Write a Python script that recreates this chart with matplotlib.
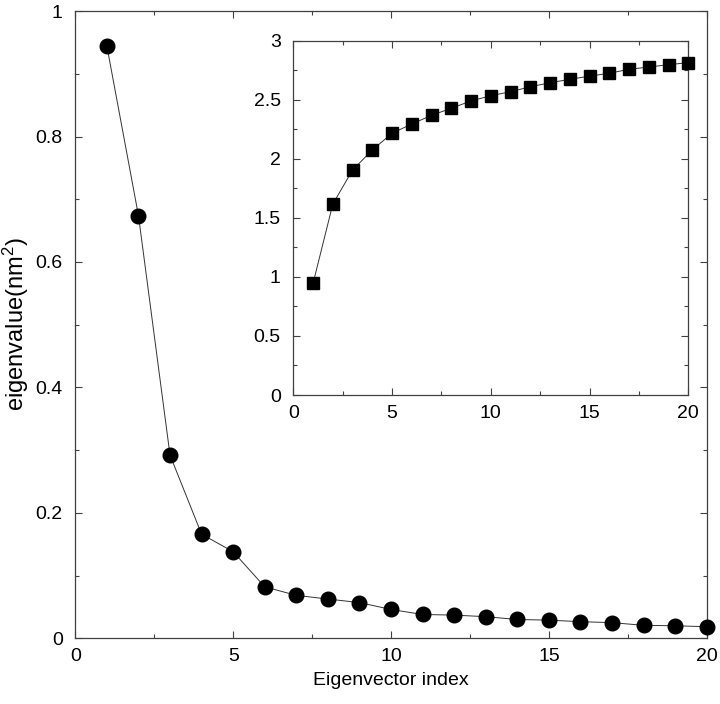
import matplotlib.pyplot as plt
from matplotlib.ticker import MultipleLocator

plt.rcParams['font.family'] = ['Liberation Sans', 'DejaVu Sans']
plt.rcParams['mathtext.fontset'] = 'custom'
plt.rcParams['mathtext.rm'] = 'Liberation Sans'
plt.rcParams['mathtext.it'] = 'Liberation Sans'

# valores
indices = list(range(1, 21))
autovalores = [0.944, 0.674, 0.292, 0.166, 0.138, 0.082, 0.0685, 0.0626, 0.057, 0.046,
               0.038, 0.037, 0.0345, 0.030, 0.029, 0.0265, 0.025, 0.0207, 0.020, 0.0185]
acumulado = [0.946, 1.617, 1.905, 2.075, 2.216, 2.295, 2.368, 2.428, 2.49, 2.534,
             2.568, 2.61, 2.644, 2.673, 2.70, 2.724, 2.758, 2.777, 2.797, 2.814]

corEixo = '#404040'

def estilo(ax, xmaj, xmin, ymaj, ymin, tam):
    ax.xaxis.set_major_locator(MultipleLocator(xmaj))
    ax.xaxis.set_minor_locator(MultipleLocator(xmin))
    ax.yaxis.set_major_locator(MultipleLocator(ymaj))
    ax.yaxis.set_minor_locator(MultipleLocator(ymin))
    ax.tick_params(which='both', direction='in', top=True, right=True, color=corEixo, width=0.8)
    ax.tick_params(which='major', length=5, labelsize=tam)
    ax.tick_params(axis='x', which='major', pad=7)
    ax.tick_params(axis='y', which='major', pad=9)
    ax.tick_params(which='minor', length=3)
    for s in ax.spines.values():
        s.set_color(corEixo)
        s.set_linewidth(0.9)
    ax.yaxis.set_major_formatter(plt.FuncFormatter(lambda v, p: ('%g' % v)))

fig = plt.figure(figsize=(7.2, 7.04), dpi=100)

# grafico principal
ax = fig.add_axes([0.1046, 0.0933, 0.877, 0.891])
ax.plot(indices, autovalores, color='#333333', lw=0.7, marker='o', ms=10.5,
        mfc='black', mec='black', clip_on=False, zorder=3)
ax.set_xlim(0, 20)
ax.set_ylim(0, 1)
estilo(ax, 5, 2.5, 0.2, 0.1, 14)
ax.set_xlabel('Eigenvector index', fontsize=14, labelpad=5)
ax.set_ylabel('eigenvalue(nm$^2$)', fontsize=17, labelpad=3)

# grafico interno (acumulado)
axin = fig.add_axes([0.4074, 0.4389, 0.5486, 0.5033])
axin.plot(indices, acumulado, color='#333333', lw=0.7, marker='s', ms=8.5,
          mfc='black', mec='black', clip_on=False, zorder=3)
axin.set_xlim(0, 20)
axin.set_ylim(0, 3)
estilo(axin, 5, 2.5, 0.5, 0.25, 14)

plt.savefig('out.png', format='png')
